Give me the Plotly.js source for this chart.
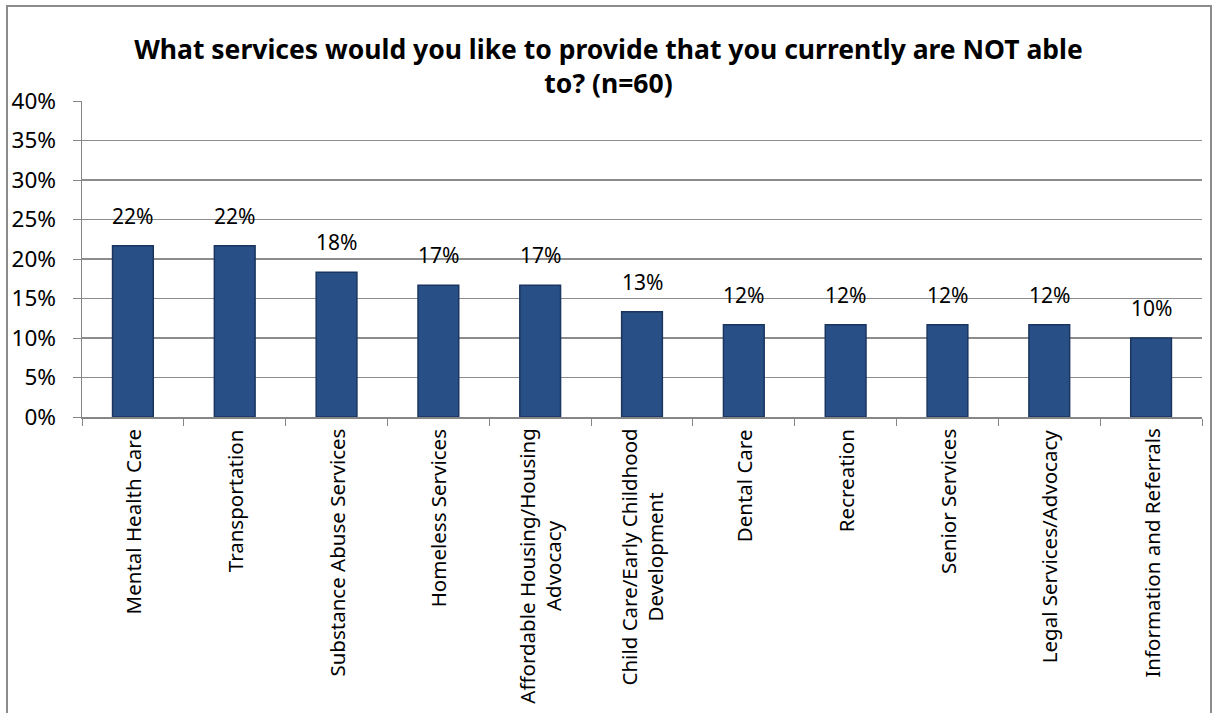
<!DOCTYPE html>
<html>
<head>
<meta charset="utf-8">
<script src="https://cdn.plot.ly/plotly-3.0.1.min.js"></script>
<style>
  html, body { margin: 0; padding: 0; background: #ffffff; }
  #chart { position: absolute; left: 0; top: 0; width: 1217px; height: 713px; }
  #frame { position: absolute; left: 6px; top: 5px; width: 1206px; height: 720px; border: 2px solid #8c8c8c; box-sizing: border-box; pointer-events: none; }
</style>
</head>
<body>
<div id="chart"></div>
<div id="frame"></div>
<script>
const categories = [
  "Mental Health Care",
  "Transportation",
  "Substance Abuse Services",
  "Homeless Services",
  "Affordable Housing/Housing<br>Advocacy",
  "Child Care/Early Childhood<br>Development",
  "Dental Care",
  "Recreation",
  "Senior Services",
  "Legal Services/Advocacy",
  "Information and Referrals"
];
const values = [0.2167, 0.2167, 0.1833, 0.1667, 0.1667, 0.1333, 0.1167, 0.1167, 0.1167, 0.1167, 0.10];
const valueLabels = ["22%", "22%", "18%", "17%", "17%", "13%", "12%", "12%", "12%", "12%", "10%"];
const yTickVals = [0, 0.05, 0.10, 0.15, 0.20, 0.25, 0.30, 0.35, 0.40];
const yTickText = ["0%", "5%", "10%", "15%", "20%", "25%", "30%", "35%", "40%"];
const titleText = "What services would you like to provide that you currently are NOT able<br>to? (n=60)";

const font = "Noto Sans, DejaVu Sans, sans-serif";

const trace = {
  type: "bar",
  x: categories,
  y: values,
  width: 0.4,
  marker: { color: "#284f86", line: { color: "#1a3560", width: 1.5 } },
  hoverinfo: "skip"
};

const annotations = [];
categories.forEach((c, i) => {
  annotations.push({
    x: c, y: values[i], xref: "x", yref: "y",
    text: valueLabels[i], showarrow: false,
    yanchor: "bottom", xanchor: "center", yshift: 14,
    font: { family: font, size: 21, color: "#000000" }
  });
  annotations.push({
    x: c, y: 0, xref: "x", yref: "paper",
    text: c, showarrow: false, textangle: -90,
    yanchor: "top", xanchor: "center", yshift: -10, align: "center",
    font: { family: font, size: 20.5, color: "#000000" }
  });
});

const layout = {
  width: 1217,
  height: 713,
  autosize: false,
  paper_bgcolor: "#ffffff",
  plot_bgcolor: "#ffffff",
  margin: { l: 82, r: 15, t: 101, b: 296 },
  showlegend: false,
  title: {
    text: titleText,
    font: { family: font, size: 26.5, color: "#000000", weight: "bold" },
    x: 0.5,
    xanchor: "center",
    xref: "container",
    y: 1,
    yref: "paper",
    yanchor: "bottom",
    pad: { b: 42 }
  },
  xaxis: {
    type: "category",
    showline: true,
    linecolor: "#868686",
    linewidth: 1.5,
    ticks: "outside",
    tickson: "boundaries",
    ticklen: 7,
    tickcolor: "#868686",
    showticklabels: false,
    showgrid: false,
    fixedrange: true
  },
  yaxis: {
    range: [0, 0.4],
    tickvals: yTickVals,
    ticktext: yTickText,
    showline: true,
    linecolor: "#868686",
    linewidth: 1.5,
    ticks: "outside",
    ticklen: 8,
    tickcolor: "#868686",
    ticklabelstandoff: 12,
    showgrid: true,
    gridcolor: "#8c8c8c",
    gridwidth: 1.2,
    zeroline: false,
    tickfont: { family: font, size: 22.5, color: "#000000" },
    fixedrange: true
  },
  annotations: annotations
};

Plotly.newPlot("chart", [trace], layout, { displayModeBar: false, staticPlot: true });
</script>
</body>
</html>
